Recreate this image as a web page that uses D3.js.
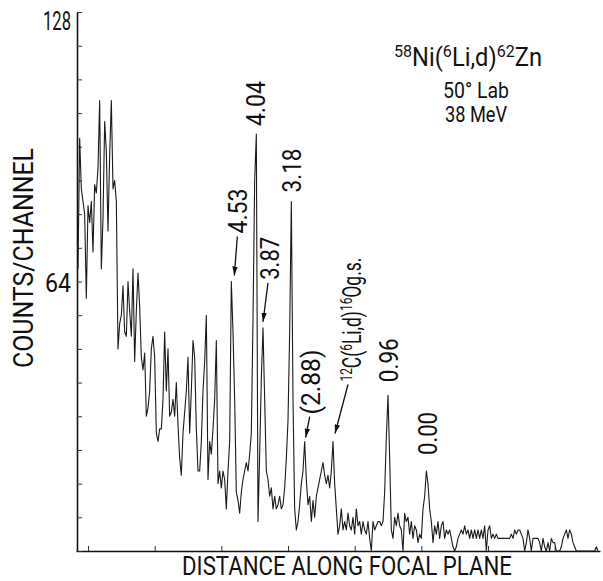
<!DOCTYPE html>
<html>
<head>
<meta charset="utf-8">
<script src="https://cdnjs.cloudflare.com/ajax/libs/d3/7.8.5/d3.min.js"></script>
<style>
  body { margin: 0; background: #fff; }
  svg { display: block; }
  text { font-family: Roboto, "Liberation Sans", sans-serif; font-weight: 400; fill: #111; }
</style>
</head>
<body>
<div id="chart"></div>
<script>
// counts per channel
const counts = [
  67, 98, 86, 83, 80, 60, 82, 78, 83, 71, 87, 85, 91, 107, 67, 79, 102, 95, 76, 94,
  107, 86, 88, 83, 48, 54, 56, 63, 52, 51, 64, 57, 51, 67, 45, 57, 66, 58, 46, 43,
  47, 32, 34, 38, 48, 51, 46, 28, 26, 29, 29, 36, 52, 38, 48, 32, 33, 36, 32, 40,
  30, 22, 18, 28, 33, 38, 46, 28, 38, 50, 46, 29, 19, 19, 26, 38, 45, 56, 17, 26,
  23, 29, 36, 50, 16, 19, 15, 19, 17, 10, 19, 26, 64, 52, 36, 14, 12, 9, 14, 17,
  19, 21, 19, 23, 28, 55, 88, 99, 7, 23, 41, 53, 36, 19, 17, 13, 15, 10, 13, 10,
  11, 13, 10, 11, 15, 22, 31, 52, 83, 36, 10, 5, 7, 11, 16, 19, 26, 17, 11, 13,
  7, 12, 8, 13, 15, 17, 19, 21, 18, 16, 18, 15, 19, 26, 16, 10, 4, 6, 10, 5,
  7, 5, 9, 6, 5, 8, 4, 10, 6, 7, 4, 7, 5, 4, 7, 3, 0, 7, 5, 6,
  7, 7, 6, 7, 14, 27, 37, 22, 5, 3, 8, 6, 9, 6, 5, 0, 9, 7, 8, 4,
  7, 3, 6, 5, 2, 4, 3, 10, 13, 19, 16, 10, 7, 2, 6, 4, 7, 3, 6, 7,
  3, 5, 4, 5, 3, 1, 0, 1, 3, 4, 5, 4, 6, 4, 5, 3, 5, 3, 5, 3,
  5, 3, 5, 3, 6, 0, 5, 6, 3, 4, 3, 4, 3, 3, 3, 3, 3, 3, 3, 3,
  4, 3, 5, 4, 5, 5, 4, 3, 0, 2, 5, 3, 0, 3, 3, 3, 3, 2, 0, 3,
  1, 0, 2, 0, 3, 2, 2, 0, 0, 0, 1, 3, 4, 5, 3, 5, 4, 2, 1, 0,
  0, 0, 0, 0, 0, 0, 0, 0, 0, 0, 0, 1, 0
];

const yTicks = d3.range(0, 129, 8);
const yLabels = [64, 128];
const xTicks = [6, 46, 86, 126, 166, 206, 246, 286];

// excitation energies (MeV) and the channel of each peak
const peakNames = ["4.53", "4.04", "3.87", "3.18", "(2.88)", "12C", "0.96", "0.00"];
const peakChannels = [92, 107, 111, 128, 136, 153, 186, 209];

const reactionParts = [["58", true], ["Ni(", false], ["6", true], ["Li,d)", false], ["62", true], ["Zn", false]];
const contamParts = [["12", true], ["C(", false], ["6", true], ["Li,d)", false], ["16", true], ["Og.s.", false]];
const infoLines = ["50° Lab", "38 MeV"];

const W = 603, H = 581;

const xScale = d3.scaleLinear().domain([-1.2, 313.2]).range([76, 600]);
const yScale = d3.scaleLinear().domain([0, 128]).range([551, 12]);

const svg = d3.select("#chart").append("svg")
  .attr("width", W)
  .attr("height", H);

svg.append("defs").append("marker")
  .attr("id", "head")
  .attr("markerUnits", "userSpaceOnUse")
  .attr("viewBox", "0 0 10 6")
  .attr("refX", 10).attr("refY", 3)
  .attr("markerWidth", 9).attr("markerHeight", 5.5)
  .attr("orient", "auto")
  .append("path")
    .attr("d", "M0,0 L10,3 L0,6 Z")
    .attr("fill", "#111");

// axes, ticks pointing inward
const xAxis = d3.axisBottom(xScale).tickValues(xTicks).tickSizeInner(-5).tickSizeOuter(0).tickFormat("");
const yAxis = d3.axisLeft(yScale).tickValues(yTicks).tickSizeInner(-5).tickSizeOuter(0).tickFormat("");

svg.append("g")
  .attr("transform", "translate(0,551)")
  .call(xAxis)
  .call(g => g.select(".domain").attr("stroke", "#111").attr("stroke-width", 1.6))
  .call(g => g.selectAll(".tick line").attr("stroke", "#333").attr("stroke-width", 1));

svg.append("g")
  .attr("transform", "translate(77,0)")
  .call(yAxis)
  .call(g => g.select(".domain").attr("stroke", "#111").attr("stroke-width", 1.6))
  .call(g => g.selectAll(".tick line").attr("stroke", "#333").attr("stroke-width", 1));

// y labels
svg.selectAll(".ylab")
  .data(yLabels)
  .enter()
  .append("text")
    .attr("class", "ylab")
    .attr("x", 71)
    .attr("y", d => d === 128 ? yScale(d) + 18 : yScale(d) + 10)
    .attr("text-anchor", "end")
    .attr("font-size", 26)
    .attr("textLength", d => d === 128 ? 28 : 26)
    .attr("lengthAdjust", "spacingAndGlyphs")
    .text(d => d);

// spectrum
const line = d3.line()
  .x((d, i) => xScale(i))
  .y(d => yScale(d));

svg.append("path")
  .datum(counts)
  .attr("fill", "none")
  .attr("stroke", "#1a1a1a")
  .attr("stroke-width", 1.1)
  .attr("stroke-linejoin", "round")
  .attr("d", line);

// axis titles
svg.append("text")
  .attr("x", 182).attr("y", 574.5)
  .attr("font-size", 25)
  .attr("textLength", 330)
  .attr("lengthAdjust", "spacingAndGlyphs")
  .text("DISTANCE ALONG FOCAL PLANE");

svg.append("text")
  .attr("transform", "translate(33,368) rotate(-90)")
  .attr("font-size", 27)
  .attr("textLength", 220)
  .attr("lengthAdjust", "spacingAndGlyphs")
  .text("COUNTS/CHANNEL");

function richText(sel, parts, size) {
  parts.forEach(([t, sup], i) => {
    const prevSup = i > 0 && parts[i - 1][1];
    sel.append("tspan")
      .attr("font-size", sup ? size * 0.68 : size)
      .attr("dy", sup ? -size * 0.36 : (prevSup ? size * 0.36 : 0))
      .text(t);
  });
  return sel;
}

// reaction title
const title = svg.append("text")
  .attr("text-anchor", "middle");
richText(title, reactionParts, 25);
{
  const w = title.node().getBBox().width;
  title.attr("transform", `translate(468,66) scale(${148 / w},1)`);
}

svg.selectAll(".info")
  .data(infoLines)
  .enter()
  .append("text")
    .attr("class", "info")
    .attr("x", 476)
    .attr("y", (d, i) => 98 + i * 24)
    .attr("text-anchor", "middle")
    .attr("font-size", 22)
    .attr("textLength", (d, i) => i === 0 ? 66 : 62)
    .attr("lengthAdjust", "spacingAndGlyphs")
    .text(d => d);

// peak labels: offsets from the peak top, text length, optional arrow
const labelLayout = [
  { dx: 16, dy: -48, len: 45, arrow: [6, -45, 3, -6] },
  { dx: 9, dy: -8, len: 45 },
  { dx: 16, dy: -48, len: 43, arrow: [5, -45, 0, -6] },
  { dx: 10, dy: -9, len: 44 },
  { dx: 15, dy: -27, len: 65, arrow: [5, -25, 1, -4] },
  { dx: 28, dy: -60, len: 124, arrow: [15, -57, 2, -8] },
  { dx: 10, dy: -13, len: 44 },
  { dx: 11, dy: -16, len: 43 }
];

peakNames.forEach((name, i) => {
  const ch = peakChannels[i];
  const px = xScale(ch);
  const py = yScale(counts[ch]);
  const L = labelLayout[i];
  const t = svg.append("text")
    .attr("font-size", 25);
  if (name === "12C") {
    richText(t, contamParts, 25);
    const w = t.node().getBBox().width;
    t.attr("transform", `translate(${px + L.dx},${py + L.dy}) rotate(-90) scale(${L.len / w},1)`);
  } else {
    t.attr("transform", `translate(${px + L.dx},${py + L.dy}) rotate(-90)`)
      .attr("textLength", L.len)
      .attr("lengthAdjust", "spacingAndGlyphs")
      .text(name);
  }
  if (L.arrow) {
    svg.append("line")
      .attr("x1", px + L.arrow[0]).attr("y1", py + L.arrow[1])
      .attr("x2", px + L.arrow[2]).attr("y2", py + L.arrow[3])
      .attr("stroke", "#111")
      .attr("stroke-width", 1.3)
      .attr("marker-end", "url(#head)");
  }
});
</script>
</body>
</html>
